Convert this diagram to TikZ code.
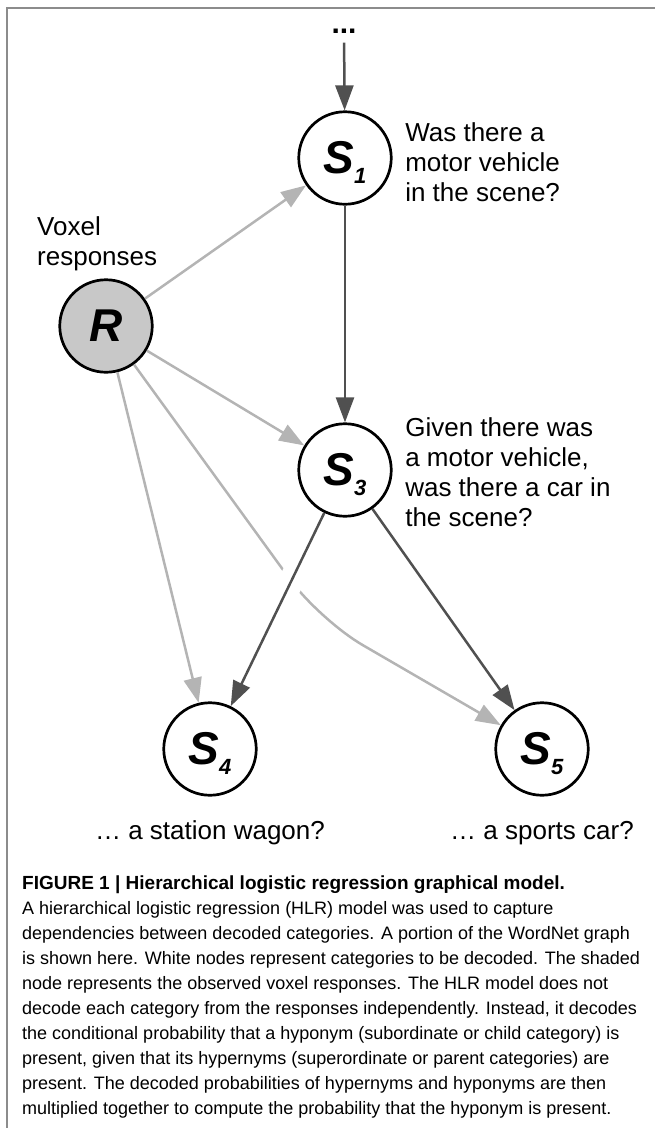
\documentclass[tikz,border=0pt]{standalone}
\usepackage{fontspec}
\setmainfont{Liberation Sans}
\usepackage{xcolor}
\usepackage{tikz}
\usetikzlibrary{arrows.meta,positioning,calc}

\definecolor{edgedark}{HTML}{505050}
\definecolor{edgelight}{HTML}{B4B4B4}
\definecolor{obsfill}{HTML}{C8C8C8}
\definecolor{framegray}{HTML}{8C8C8C}

% category symbol with a hanging index
\newcommand{\catsym}[1]{S\smash{\raisebox{-10pt}{\fontsize{22}{22}\selectfont #1}}}

\begin{document}
\begin{tikzpicture}[
  x=1pt, y=1pt,
  % Styles
  var/.style={circle, draw, line width=2.7pt, minimum size=92.5pt, inner sep=0pt,
              font=\fontsize{46}{46}\selectfont\bfseries\itshape, fill=white},
  obs/.style={var, fill=obsfill},
  qlabel/.style={font=\fontsize{26}{30}\selectfont, align=left, inner sep=0pt},
  dep/.style={-{Triangle[length=25pt, width=18pt]}, line width=2.5pt, edgedark},
  rdep/.style={dep, edgelight},
  node distance=12.5pt
]
\useasboundingbox (0,0) rectangle (655,-1128);

% --- Frame ---
\draw[framegray, line width=1.5pt] (7,-1128) -- (7,-8) -- (655,-8);

% --- 1. Category nodes ---
\node[font=\fontsize{30}{30}\selectfont\bfseries, anchor=base] (more) at (344,-33) {...};
\node[var] (S1) at (345,-158) {\catsym{1}};
\node[var] (S3) at (345,-470) {\catsym{3}};
\node[var] (S4) at (210,-749) {\catsym{4}};
\node[var] (S5) at (542,-749) {\catsym{5}};

% --- 2. Observed responses ---
\node[obs] (R) at (106,-326) {R};
\node[qlabel, anchor=west] (voxlbl) at (37,-244) {Voxel\\responses};

% Questions
\node[qlabel, right=of S1, yshift=-4pt] (q1) {Was there a\\motor vehicle\\in the scene?};
\node[qlabel, right=of S3, yshift=-2pt] (q3) {Given there was\\a motor vehicle,\\was there a car in\\the scene?};
\node[qlabel, below=24pt of S4] (q4) {… a station wagon?};
\node[qlabel, anchor=base] (q5) at (q4.base -| S5) {… a sports car?};

% --- 3. Edges ---
\draw[dep, shorten <=6pt] (more) -- (S1);
\draw[dep] (S1) -- (S3);

\draw[rdep] (R) -- (S1);
\draw[rdep] (R) -- (S3);
\draw[rdep] (R) -- (S4);
\coordinate (bend) at (319.5,-620);
\draw[rdep, rounded corners=50pt] (R.-54) -- (bend) -- (S5.150);

% gap where the grey curve passes under S3 -> S4
\draw[white, line width=25pt] ($(S3)!0.355!(S4)$) -- ($(S3)!0.435!(S4)$);
\draw[dep] (S3) -- (S4);
\draw[dep] (S3) -- (S5);

% --- 4. Caption ---
\node[font=\fontsize{18}{25.1}\selectfont, align=left, inner sep=0pt, anchor=west] (caption) at (22,-997)
  {{\fontsize{19}{25.1}\selectfont\bfseries FIGURE 1 | Hierarchical logistic regression graphical model.}\\
   A hierarchical logistic regression (HLR) model was used to capture\\
   dependencies between decoded categories. A portion of the WordNet graph\\
   is shown here. White nodes represent categories to be decoded. The shaded\\
   node represents the observed voxel responses. The HLR model does not\\
   decode each category from the responses independently. Instead, it decodes\\
   the conditional probability that a hyponym (subordinate or child category) is\\
   present, given that its hypernyms (superordinate or parent categories) are\\
   present. The decoded probabilities of hypernyms and hyponyms are then\\
   multiplied together to compute the probability that the hyponym is present.};

\end{tikzpicture}
\end{document}
